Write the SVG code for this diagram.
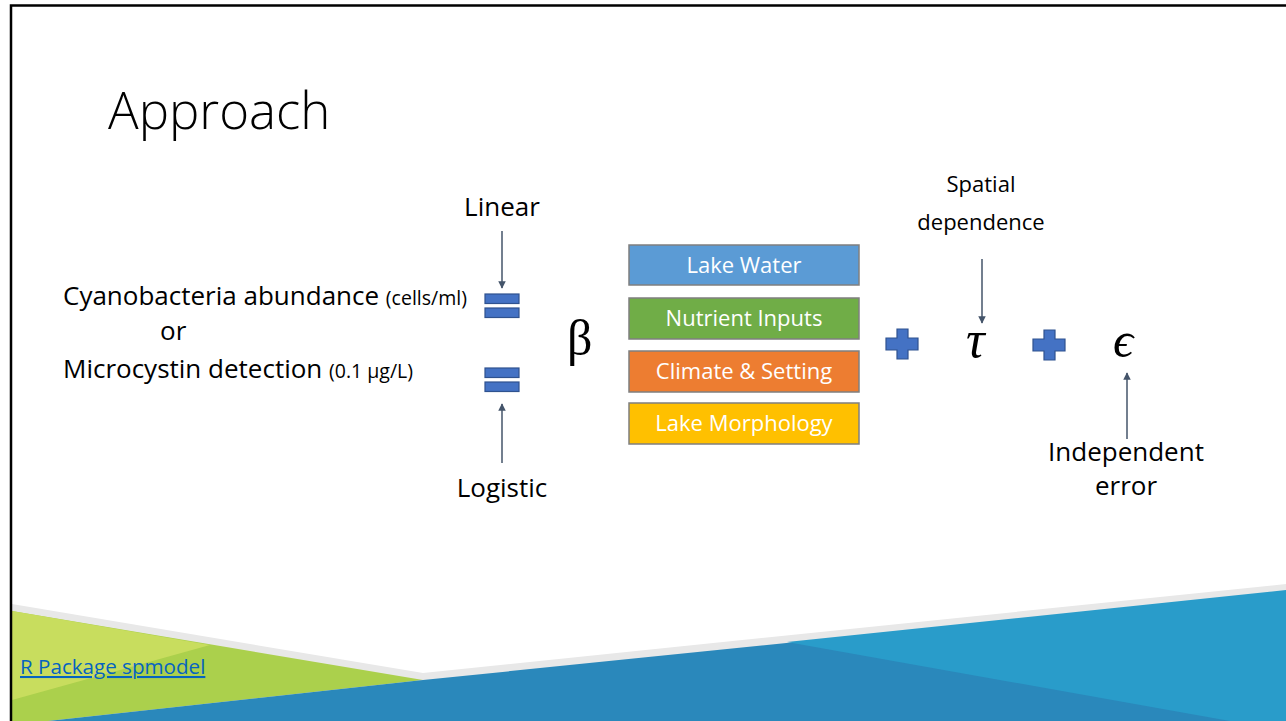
<svg xmlns="http://www.w3.org/2000/svg" width="1286" height="721" viewBox="0 0 1286 721">
<defs>
<style>
.t{font-family:"Open Sans","Noto Sans","Liberation Sans",sans-serif;fill:#000}
.big{font-size:26px}
.sm{font-size:19.5px}
.box{stroke:#7f7f7f;stroke-width:1.5}
.bl{font-family:"Open Sans","Noto Sans","Liberation Sans",sans-serif;font-size:22px;fill:#fff;text-anchor:middle}
.math{font-family:"Liberation Serif","DejaVu Serif",serif;fill:#000}
.eq{fill:#4472c4;stroke:#2f528f;stroke-width:1.2}
.arr{stroke:#44546a;stroke-width:1.5;fill:none}
</style>
<marker id="ah" viewBox="0 0 10 10" refX="9" refY="5" markerWidth="5" markerHeight="5" orient="auto" markerUnits="strokeWidth">
<path d="M0,0 L10,5 L0,10 z" fill="#44546a"/>
</marker>
</defs>
<rect width="1286" height="721" fill="#fff"/>
<g id="background">
<polygon points="12,604 423,673 1286,584 1286,721 12,721" fill="#e8e8e8"/>
<polygon points="12,611 423,680 48,721 12,721" fill="#abd04c"/>
<polygon points="12,611 210,645 12,700" fill="#c8dd5e"/>
<polygon points="423,680 1286,592 1286,721 48,721" fill="#2a88bb"/>
<polygon points="787,642 1286,590 1286,721 1230,721" fill="#299cca"/>
<path d="M11,721 V5.5 H1286" fill="none" stroke="#000" stroke-width="2.5"/>
</g>
<g id="title"><text class="t" x="108" y="129" font-size="51" font-weight="300">Approach</text></g>
<g id="response">
<text class="t big" x="63" y="305">Cyanobacteria abundance <tspan class="sm">(cells/ml)</tspan></text>
<text class="t big" x="160" y="340">or</text>
<text class="t big" x="63" y="378">Microcystin detection <tspan class="sm">(0.1 µg/L)</tspan></text>
</g>
<g id="linear"><text class="t big" x="502" y="216" text-anchor="middle">Linear</text></g>
<g id="logistic"><text class="t big" x="502" y="497" text-anchor="middle">Logistic</text></g>
<g id="equals1">
<rect class="eq" x="485" y="294" width="34" height="9.5"/>
<rect class="eq" x="485" y="308" width="34" height="9.5"/>
</g>
<g id="equals2">
<rect class="eq" x="485" y="368" width="34" height="9.5"/>
<rect class="eq" x="485" y="382" width="34" height="9.5"/>
</g>
<g id="beta"><text class="math" x="567" y="355" font-size="50">β</text></g>
<g id="lake-water"><rect class="box" x="629" y="245" width="230" height="40" fill="#5b9bd5"/><text class="bl" x="744" y="273">Lake Water</text></g>
<g id="nutrient-inputs"><rect class="box" x="629" y="298" width="230" height="41" fill="#70ad47"/><text class="bl" x="744" y="326">Nutrient Inputs</text></g>
<g id="climate-setting"><rect class="box" x="629" y="351" width="230" height="41" fill="#ed7d31"/><text class="bl" x="744" y="379">Climate &amp; Setting</text></g>
<g id="lake-morphology"><rect class="box" x="629" y="403" width="230" height="41" fill="#ffc000"/><text class="bl" x="744" y="431">Lake Morphology</text></g>
<g id="plus1"><path class="eq" d="M897,329 H908 V338 H918 V350 H908 V359 H897 V350 H886 V338 H897 Z"/></g>
<g id="tau"><text class="math" x="966" y="357" font-size="52" font-style="italic">τ</text></g>
<g id="plus2"><path class="eq" d="M1044,330 H1055 V339 H1065 V351 H1055 V360 H1044 V351 H1033 V339 H1044 Z"/></g>
<g id="epsilon"><text class="math" x="1113" y="357" font-size="50" font-style="italic">ϵ</text></g>
<g id="spatial"><text class="t" font-size="22" text-anchor="middle"><tspan x="981" y="192">Spatial</tspan><tspan x="981" y="230">dependence</tspan></text></g>
<g id="independent"><text class="t big" text-anchor="middle"><tspan x="1126" y="461">Independent</tspan><tspan x="1126" y="495">error</tspan></text></g>
<g id="link"><text x="20" y="674" font-family="'Open Sans','Noto Sans',sans-serif" font-size="20.6" fill="#0563c1" text-decoration="underline">R Package spmodel</text></g>
<g id="connectors">
<line class="arr" x1="502" y1="231" x2="502" y2="288" marker-end="url(#ah)"/>
<line class="arr" x1="502" y1="463" x2="502" y2="404" marker-end="url(#ah)"/>
<line class="arr" x1="982" y1="259" x2="982" y2="323" marker-end="url(#ah)"/>
<line class="arr" x1="1127" y1="439" x2="1127" y2="373" marker-end="url(#ah)"/>
</g>
</svg>
